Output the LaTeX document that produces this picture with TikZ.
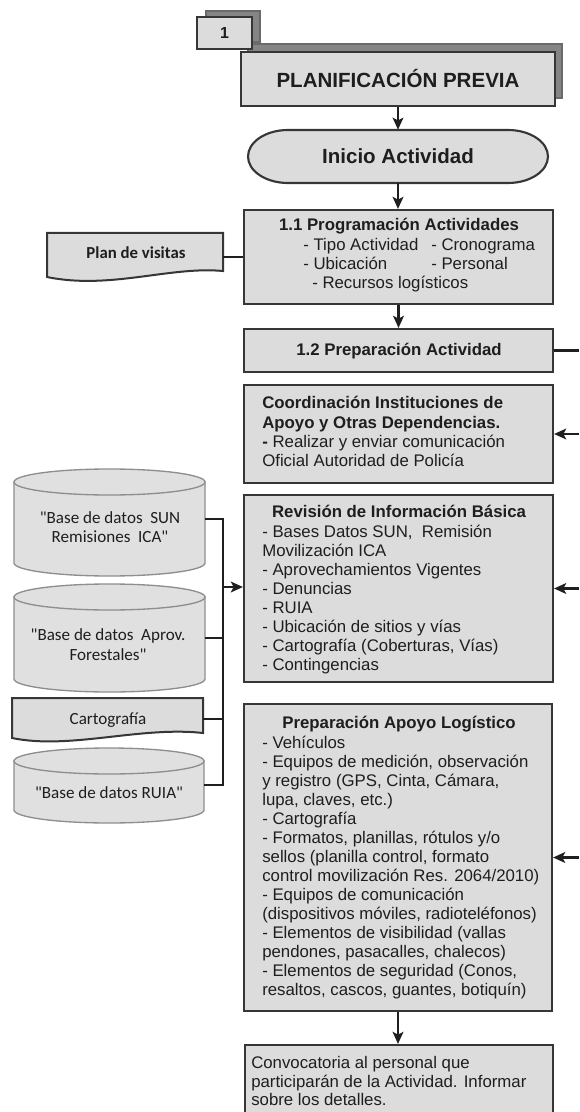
\documentclass[tikz,border=0pt]{standalone}
\usepackage{fontspec}
\setmainfont{Liberation Sans}
\newfontfamily\calfont{Carlito}
\usetikzlibrary{arrows.meta,fit}
\definecolor{boxfill}{HTML}{DCDCDC}
\definecolor{boxline}{HTML}{363636}
\definecolor{shadowc}{HTML}{858585}
\definecolor{dbline}{HTML}{8E8E8E}
\definecolor{dbfill}{HTML}{E0E0E0}
\definecolor{txtc}{HTML}{1E1E1E}
\newcommand\bodyfont{\fontsize{12.6}{14.25}\selectfont}
\newcommand\labfont{\calfont\fontsize{12.8}{14.25}\selectfont}
\newcommand\myL[4]{\node[txt,anchor=base west] (#1) at (#2,{#3+5.5}) {#4};}
\newcommand\myC[4]{\node[txt,anchor=base] (#1) at (#2,{#3+5.5}) {#4};}
\newcommand\myD[4]{\node[lab,anchor=base] (#1) at (#2,{#3+5.5}) {#4};}
\begin{document}
\begin{tikzpicture}[x=0.75pt,y=-0.75pt,
  box/.style={draw=boxline,fill=boxfill,line width=1.6pt,inner sep=0pt},
  shadowbox/.style={draw=shadowc!80!black,fill=shadowc,line width=1pt,inner sep=0pt},
  frame/.style={draw=none,inner sep=0pt},
  dbshape/.style={draw=dbline,fill=dbfill,line width=1pt},
  docshape/.style={draw=boxline,fill=boxfill,line width=1.5pt},
  txt/.style={inner sep=0pt,font=\bodyfont,text=txtc},
  lab/.style={inner sep=0pt,font=\labfont,text=txtc},
  conn/.style={draw=black!88,line width=1.8pt},
  arr/.style={conn,-{Stealth[length=9pt,width=8pt,inset=2pt]}}]
\useasboundingbox (0,0) rectangle (579,1112);

% header boxes
\node[shadowbox,fit={(248,44) (562,98)}] (plansh) {};
\node[shadowbox,fit={(206,11) (260,42)}] (onesh) {};
\node[box,fit={(197,17) (252,49)}] (one) {};
\node[txt,font=\fontsize{12}{14}\selectfont\bfseries] (onet) at (one.center) {1};
\node[box,fit={(241,52) (555,106)}] (plan) {};
\node[txt,font=\fontsize{15.4}{18}\selectfont\bfseries] (plant) at (plan.center) {PLANIFICACIÓN PREVIA};

% inicio
\node[frame,fit={(248,130) (548,183)}] (inicio) {};
\draw[box] (288,130) -- (508,130) arc[start angle=-90,end angle=90,x radius=40,y radius=26.5]
  -- (288,183) arc[start angle=90,end angle=270,x radius=40,y radius=26.5] -- cycle;
\node[txt,font=\fontsize{15.4}{18}\selectfont\bfseries] (iniciot) at (inicio.center) {Inicio Actividad};

% main boxes
\node[box,fit={(244,210) (553,304)}] (p11) {};
\node[box,fit={(244,329) (553,372)}] (p12) {};
\node[box,fit={(244,385) (553,483)}] (coord) {};
\node[box,fit={(244,495) (553,682)}] (rev) {};
\node[box,fit={(244,704) (552,1011)}] (apoyo) {};
\node[box,fit={(245,1045) (553,1125)}] (conv) {};

% 1.1 text
\myC{p11a}{399}{225}{\bfseries 1.1 Programación Actividades}
\myL{p11b}{303}{245}{- Tipo Actividad}
\myL{p11c}{431}{245}{- Cronograma}
\myL{p11d}{303}{264}{- Ubicación}
\myL{p11e}{431}{264}{- Personal}
\myL{p11f}{312}{283}{- Recursos logísticos}
% 1.2 text
\myC{p12a}{399}{350}{\bfseries 1.2 Preparación Actividad}
% coordinacion
\myL{co1}{262}{403}{\bfseries Coordinación Instituciones de}
\myL{co2}{262}{423}{\bfseries Apoyo y Otras Dependencias.}
\myL{co3}{262}{442}{\textbf{-} Realizar y enviar comunicación}
\myL{co4}{262}{461}{Oficial Autoridad de Policía}
% revision
\myC{rv0}{399}{512}{\bfseries Revisión de Información Básica}
\foreach \t [count=\i from 0] in {{- Bases Datos SUN,\ \ Remisión},{Movilización ICA},{- Aprovechamientos Vigentes},{- Denuncias},{- RUIA},{- Ubicación de sitios y vías},{- Cartografía (Coberturas, Vías)},{- Contingencias}}
  \node[txt,anchor=base west] (rv\i) at (262,{532+19.05*\i+5.5}) {\t};
% apoyo
\myC{ap}{399}{723}{\bfseries Preparación Apoyo Logístico}
\foreach \t [count=\i from 0] in {{- Vehículos},{- Equipos de medición, observación},{y registro (GPS, Cinta, Cámara,},{lupa, claves, etc.)},{- Cartografía},{- Formatos, planillas, rótulos y/o},{sellos (planilla control, formato},{control movilización Res. 2064/2010)},{- Equipos de comunicación},{(dispositivos móviles, radioteléfonos)},{- Elementos de visibilidad (vallas},{pendones, pasacalles, chalecos)},{- Elementos de seguridad (Conos,},{resaltos, cascos, guantes, botiquín)}}
  \node[txt,anchor=base west] (ap\i) at (262,{743+19*\i+5.5}) {\t};
% convocatoria
\myL{cv1}{251}{1063}{Convocatoria al personal que}
\myL{cv2}{251}{1082}{participarán de la Actividad. Informar}
\myL{cv3}{251}{1100}{sobre los detalles.}

% plan de visitas document
\node[frame,fit={(47,233) (223,281)}] (visitas) {};
\draw[docshape] (47,233) -- (223,233) -- (223,271) .. controls (170,266) and (110,290) .. (47,277) -- cycle;
\node[lab,anchor=base,font=\calfont\fontsize{12.6}{14}\selectfont\bfseries] (visitast) at (136,258.5) {Plan de visitas};

% databases
\newcommand\dbcyl[4]{% xl, xr, top, bottom
  \draw[dbshape] (#1,{#3+13}) -- (#1,{#4-13}) arc[start angle=180,end angle=0,x radius={(#2-#1)/2},y radius=13] -- (#2,{#3+13}) -- cycle;
  \draw[dbshape] ({(#1+#2)/2},{#3+13}) ellipse[x radius={(#2-#1)/2},y radius=13];}
\node[frame,fit={(14,463) (205,575)}] (db1) {};
\dbcyl{14}{205}{469}{576}
\myD{db1a}{110}{518}{"Base de datos\ \ SUN}
\myD{db1b}{110}{537}{Remisiones\ \ ICA"}
\node[frame,fit={(14,584) (205,692)}] (db2) {};
\dbcyl{14}{205}{584}{692}
\myD{db2a}{108}{635}{"Base de datos\ \ Aprov.}
\myD{db2b}{108}{655}{Forestales"}
\node[frame,fit={(12,698) (203,740)}] (cart) {};
\draw[docshape] (12,698) -- (203,698) -- (203,733) .. controls (140,726) and (70,750) .. (12,738) -- cycle;
\myD{carta}{108}{719}{Cartografía}
\node[frame,fit={(14,748) (204,823)}] (db3) {};
\dbcyl{14}{204}{748}{823}
\myD{db3a}{109}{793}{"Base de datos RUIA"}

% connectors main flow
\draw[arr] (plan.south) -- (plan.south |- inicio.north);
\draw[arr] (inicio.south) -- (inicio.south |- p11.north);
\draw[arr] (p11.south) -- (p11.south |- p12.north);
\draw[arr] (apoyo.south) -- (apoyo.south |- conv.north);
\draw[conn] (visitas.east) -- (p11.west);

% database bus
\coordinate (busTop) at (223,519);
\coordinate (busBot) at (223,785);
\coordinate (busIn) at (223,587);
\draw[conn] (db1.east |- busTop) -- (busTop) -- (busBot) -- (db3.east |- busBot);
\draw[conn] (db2.east) -- (db2.east -| busTop);
\draw[conn] (cart.east) -- (cart.east -| busTop);
\draw[arr] (busIn) -- (busIn -| rev.west);

% right side feed
\coordinate (r12) at (579,350.5);
\coordinate (rco) at (579,434);
\coordinate (rrv) at (579,588.5);
\coordinate (rap) at (579,857.5);
\draw[conn] (p12.east) -- (r12);
\draw[arr] (rco) -- (coord.east);
\draw[arr] (rrv) -- (rev.east);
\draw[arr] (rap) -- (apoyo.east);
\end{tikzpicture}
\end{document}
